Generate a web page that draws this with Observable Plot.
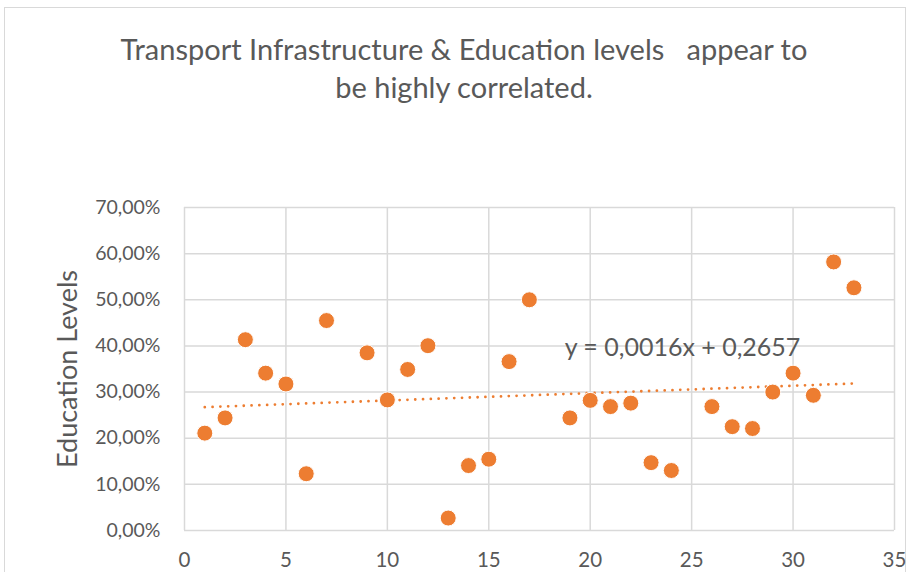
<!DOCTYPE html>
<html>
<head>
<meta charset="utf-8">
<script src="https://cdn.jsdelivr.net/npm/d3@7"></script>
<script src="https://cdn.jsdelivr.net/npm/@observablehq/plot@0.6"></script>
<style>
  html, body { margin: 0; padding: 0; background: #fff; }
  #wrap { position: relative; width: 910px; height: 572px; overflow: hidden; font-family: Lato, "Open Sans", sans-serif; }
  #frame { position: absolute; left: 4px; top: 7px; width: 902px; height: 600px; border: 1px solid #d9d9d9; box-sizing: border-box; }
  #title { position: absolute; left: 9px; top: 0; width: 910px; height: 140px; text-align: center; color: #595959; font-size: 29px; line-height: 38px; padding-top: 30px; box-sizing: border-box; white-space: pre; }
  #chart { position: absolute; left: 0; top: 140px; }
</style>
</head>
<body>
<div id="wrap">
  <div id="frame"></div>
  <div id="title"></div>
  <div id="chart"></div>
</div>
<script>
const titleLines = ["Transport Infrastructure & Education levels   appear to", "be highly correlated."];
const yLabel = "Education Levels";

const xValues = [1, 2, 3, 4, 5, 6, 7, 9, 10, 11, 12, 13, 14, 15, 16, 17, 19, 20, 21, 22, 23, 24, 26, 27, 28, 29, 30, 31, 32, 33];
const yValues = [0.211, 0.244, 0.4135, 0.341, 0.3175, 0.123, 0.455, 0.385, 0.283, 0.349, 0.4005, 0.027, 0.1407, 0.1545, 0.366, 0.500, 0.244, 0.282, 0.2685, 0.276, 0.147, 0.130, 0.2685, 0.225, 0.221, 0.300, 0.341, 0.293, 0.582, 0.526];

const xTicks = [0, 5, 10, 15, 20, 25, 30, 35];
const yTicks = [0, 0.1, 0.2, 0.3, 0.4, 0.5, 0.6, 0.7];

const trendSlope = 0.0016;
const trendIntercept = 0.2657;
const trendRange = [1, 33];
const trendLabel = "y = 0,0016x + 0,2657";

document.getElementById("title").textContent = titleLines.join("\n");

const points = xValues.map((x, i) => ({x, y: yValues[i]}));
const trend = trendRange.map(x => ({x, y: trendIntercept + trendSlope * x}));

const fmtPct = d => (d * 100).toFixed(2).replace(".", ",") + "%";

const orange = "#ED7D31";
const grid = "#d9d9d9";
const textCol = "#595959";

const chart = Plot.plot({
  width: 910,
  height: 432,
  marginTop: 67,
  marginBottom: 42,
  marginLeft: 184,
  marginRight: 16,
  style: { fontFamily: "Lato, 'Open Sans', sans-serif", fontSize: "19px", color: textCol, background: "transparent", overflow: "visible" },
  x: { domain: [0, 35], ticks: xTicks },
  y: { domain: [0, 0.7], ticks: yTicks },
  marks: [
    Plot.gridX(xTicks, { stroke: grid, strokeOpacity: 1, strokeWidth: 1.5 }),
    Plot.gridY(yTicks, { stroke: grid, strokeOpacity: 1, strokeWidth: 1.5 }),
    Plot.axisX({ ticks: xTicks, tickSize: 0, tickPadding: 22, label: null, fontSize: 20.5, fill: textCol }),
    Plot.axisY({ ticks: yTicks, tickSize: 0, tickPadding: 24, tickFormat: fmtPct, label: null, fontSize: 19.5, fill: textCol }),
    Plot.text([yLabel], { frameAnchor: "left", textAnchor: "middle", dx: -116, rotate: -90, text: d => d, fontSize: 27, fill: textCol }),
    Plot.line(trend, { x: "x", y: "y", stroke: orange, strokeWidth: 2.8, strokeDasharray: "0 7.8", strokeLinecap: "round" }),
    Plot.dot(points, { x: "x", y: "y", r: 8, fill: orange, stroke: "white", strokeWidth: 1 }),
    Plot.text([trendLabel], { x: [24.55], y: [0.395], text: d => d, fontSize: 25, fill: textCol })
  ]
});
document.getElementById("chart").appendChild(chart);
</script>
</body>
</html>
